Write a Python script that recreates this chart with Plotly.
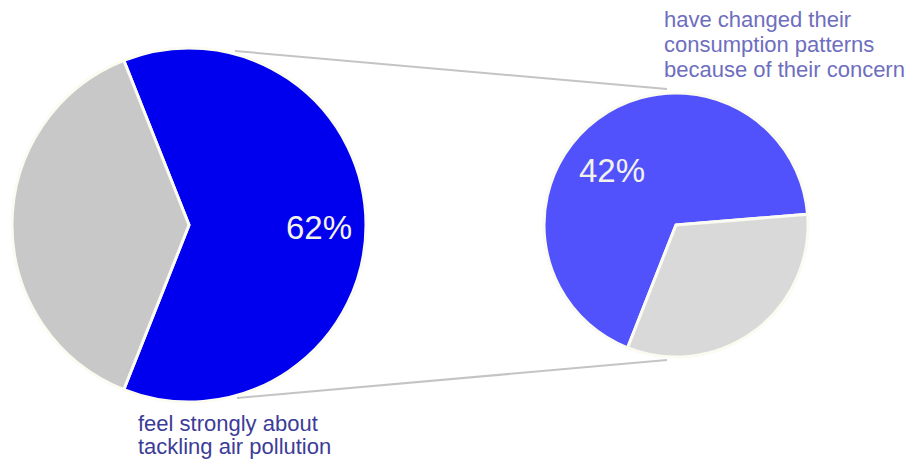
import plotly.graph_objects as go

# ---- data ----
left_labels = ["feel strongly about tackling air pollution", "other"]
left_values = [62, 38]
right_labels = ["have changed their consumption patterns", "not changed"]
right_values = [42, 20]
left_pct_text = "62%"
right_pct_text = "42%"
left_caption = ["feel strongly about", "tackling air pollution"]
right_caption = ["have changed their", "consumption patterns", "because of their concern"]

W, H = 920, 462


def px(x):
    return x / W


def py(y):
    return 1 - y / H


fig = go.Figure()

# left pie: centre (189,225), r 177
fig.add_trace(go.Pie(
    labels=left_labels, values=left_values, sort=False, direction="clockwise",
    rotation=90 - left_values[0] / sum(left_values) * 180,
    marker=dict(colors=["#0000ee", "#c8c8c8"], line=dict(color="#fbfbf2", width=3)),
    textinfo="none", hoverinfo="label+value", showlegend=False,
    domain=dict(x=[px(12), px(366)], y=[py(402), py(48)]),
))

# right pie: centre (676,225), r 132
fig.add_trace(go.Pie(
    labels=right_labels, values=right_values, sort=False, direction="clockwise",
    rotation=-158.5,
    marker=dict(colors=["#5252fc", "#d9d9d9"], line=dict(color="#fbfbf2", width=3)),
    textinfo="none", hoverinfo="label+value", showlegend=False,
    domain=dict(x=[px(544), px(808)], y=[py(357), py(93)]),
))

shapes = [
    dict(type="line", xref="paper", yref="paper", x0=px(235), y0=py(51), x1=px(667), y1=py(89),
         line=dict(color="#c4c4c4", width=2)),
    dict(type="line", xref="paper", yref="paper", x0=px(237), y0=py(398), x1=px(667), y1=py(360),
         line=dict(color="#c4c4c4", width=2)),
]

annotations = [
    dict(text=left_pct_text, x=px(319), y=py(228), xref="paper", yref="paper", showarrow=False,
         xanchor="center", yanchor="middle", font=dict(family="Arial, Liberation Sans", size=33, color="#f2f2ea")),
    dict(text=right_pct_text, x=px(612), y=py(170), xref="paper", yref="paper", showarrow=False,
         xanchor="center", yanchor="middle", font=dict(family="Arial, Liberation Sans", size=33, color="#f2f2ea")),
]
for i, line in enumerate(left_caption):
    annotations.append(dict(text=line, x=px(136), y=py(423 + 23 * i), xref="paper", yref="paper",
                            showarrow=False, xanchor="left", yanchor="middle",
                            font=dict(family="Arial, Liberation Sans", size=22, color="#3c3c98")))
for i, line in enumerate(right_caption):
    annotations.append(dict(text=line, x=px(662), y=py(20 + 25 * i), xref="paper", yref="paper",
                            showarrow=False, xanchor="left", yanchor="middle",
                            font=dict(family="Arial, Liberation Sans", size=22, color="#6e6ebe")))

fig.update_layout(
    width=W, height=H, margin=dict(l=0, r=0, t=0, b=0),
    paper_bgcolor="white", plot_bgcolor="white",
    shapes=shapes, annotations=annotations,
)

fig.write_html("out.html")
